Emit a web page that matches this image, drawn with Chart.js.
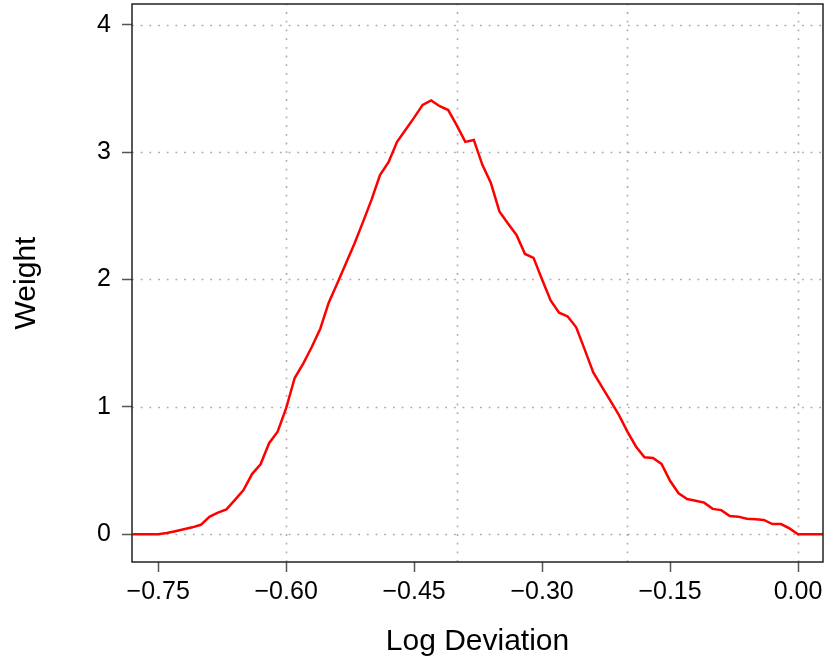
<!DOCTYPE html>
<html>
<head>
<meta charset="utf-8">
<script src="https://cdn.jsdelivr.net/npm/chart.js@4/dist/chart.umd.min.js"></script>
<style>
  html, body { margin: 0; padding: 0; background: #fff; }
  canvas { display: block; }
</style>
</head>
<body>
<canvas id="grafica" width="825" height="660"></canvas>
<script>
// log deviation (x) and weight (y)
const logDev = [
  -0.78, -0.77, -0.76, -0.75, -0.74, -0.73, -0.72, -0.71, -0.70, -0.69,
  -0.68, -0.67, -0.66, -0.65, -0.64, -0.63, -0.62, -0.61, -0.60, -0.59,
  -0.58, -0.57, -0.56, -0.55, -0.54, -0.53, -0.52, -0.51, -0.50, -0.49,
  -0.48, -0.47, -0.46, -0.45, -0.44, -0.43, -0.42, -0.41, -0.40, -0.39,
  -0.38, -0.37, -0.36, -0.35, -0.34, -0.33, -0.32, -0.31, -0.30, -0.29,
  -0.28, -0.27, -0.26, -0.25, -0.24, -0.23, -0.22, -0.21, -0.20, -0.19,
  -0.18, -0.17, -0.16, -0.15, -0.14, -0.13, -0.12, -0.11, -0.10, -0.09,
  -0.08, -0.07, -0.06, -0.05, -0.04, -0.03, -0.02, -0.01, 0.00, 0.01,
  0.02, 0.03
];
const weight = [
  0, 0, 0, 0, 0.01, 0.025, 0.04, 0.055, 0.075, 0.138,
  0.17, 0.196, 0.27, 0.347, 0.473, 0.55, 0.715, 0.805, 0.99, 1.227,
  1.34, 1.47, 1.614, 1.82, 1.97, 2.125, 2.28, 2.45, 2.625, 2.82,
  2.92, 3.08, 3.175, 3.27, 3.37, 3.405, 3.36, 3.33, 3.21, 3.08,
  3.095, 2.90, 2.757, 2.534, 2.44, 2.35, 2.20, 2.17, 2.0, 1.835,
  1.74, 1.71, 1.625, 1.45, 1.27, 1.16, 1.05, 0.937, 0.806, 0.69,
  0.605, 0.60, 0.553, 0.42, 0.322, 0.277, 0.264, 0.249, 0.20, 0.19,
  0.144, 0.139, 0.123, 0.118, 0.113, 0.081, 0.081, 0.047, 0, 0,
  0, 0
];

const xTicks = [-0.75, -0.60, -0.45, -0.30, -0.15, 0.00];
const yTicks = [0, 1, 2, 3, 4];
const xGrid = [-0.6, -0.4, -0.2, 0.0];

const font = 'Liberation Sans, Arial, Helvetica, sans-serif';

const fmtX = v => {
  const s = Math.abs(v).toFixed(2);
  return v < -1e-9 ? '\u2212' + s : s;
};

// no extra room for overflowing tick labels
const noPad = s => {
  s.paddingTop = 0; s.paddingBottom = 0;
  s.paddingLeft = 0; s.paddingRight = 0;
};

// dotted grey grid and the box round the plot
const rPlot = {
  id: 'rPlot',
  beforeDatasetsDraw(chart) {
    const { ctx, chartArea: a, scales } = chart;
    ctx.save();
    ctx.strokeStyle = '#ababab';
    ctx.lineWidth = 1.6;
    ctx.setLineDash([1.8, 6.9]);
    xGrid.forEach(v => {
      const px = Math.round(scales.x.getPixelForValue(v)) + 0.5;
      ctx.beginPath();
      ctx.moveTo(px, a.bottom);
      ctx.lineTo(px, a.top);
      ctx.stroke();
    });
    yTicks.forEach(v => {
      const py = Math.round(scales.y.getPixelForValue(v)) + 0.5;
      ctx.beginPath();
      ctx.moveTo(a.left, py);
      ctx.lineTo(a.right, py);
      ctx.stroke();
    });
    ctx.restore();
  },
  afterDraw(chart) {
    const { ctx, chartArea: a } = chart;
    ctx.save();
    ctx.strokeStyle = '#222';
    ctx.lineWidth = 1.5;
    ctx.setLineDash([]);
    ctx.strokeRect(a.left, a.top, a.right - a.left, a.bottom - a.top);
    ctx.restore();
  }
};

const graph = document.querySelector('#grafica');

new Chart(graph, {
  type: 'line',
  data: {
    datasets: [{
      data: logDev.map((x, i) => ({ x: x, y: weight[i] })),
      borderColor: '#ff0000',
      borderWidth: 2.5,
      pointRadius: 0,
      tension: 0,
      fill: false,
      clip: 0
    }]
  },
  options: {
    responsive: false,
    animation: false,
    devicePixelRatio: 1,
    layout: { padding: { top: 4, right: 2, left: 0, bottom: 0 } },
    plugins: { legend: { display: false }, tooltip: { enabled: false } },
    scales: {
      x: {
        type: 'linear',
        min: -0.7807,
        max: 0.0293,
        afterBuildTicks: s => { s.ticks = xTicks.map(v => ({ value: v })); },
        afterFit: s => { s.height = 98; noPad(s); },
        border: { display: false },
        grid: {
          drawOnChartArea: false,
          drawTicks: true,
          tickLength: 10,
          tickColor: '#555',
          tickWidth: 1.5
        },
        ticks: {
          color: '#000',
          padding: 5,
          maxRotation: 0,
          autoSkip: false,
          font: { family: font, size: 25 },
          callback: v => fmtX(v)
        },
        title: {
          display: true,
          text: 'Log Deviation',
          color: '#000',
          font: { family: font, size: 30 },
          padding: { top: -3, bottom: 0 }
        }
      },
      y: {
        type: 'linear',
        min: -0.217,
        max: 4.162,
        afterBuildTicks: s => { s.ticks = yTicks.map(v => ({ value: v })); },
        afterFit: s => { s.width = 132; noPad(s); },
        border: { display: false },
        grid: {
          drawOnChartArea: false,
          drawTicks: true,
          tickLength: 10,
          tickColor: '#555',
          tickWidth: 1.5
        },
        ticks: {
          color: '#000',
          padding: 11,
          autoSkip: false,
          font: { family: font, size: 25 },
          callback: v => String(v)
        },
        title: {
          display: true,
          text: 'Weight',
          color: '#000',
          font: { family: font, size: 30 },
          padding: { top: 9, bottom: 0 }
        }
      }
    }
  },
  plugins: [rPlot]
});
</script>
</body>
</html>
